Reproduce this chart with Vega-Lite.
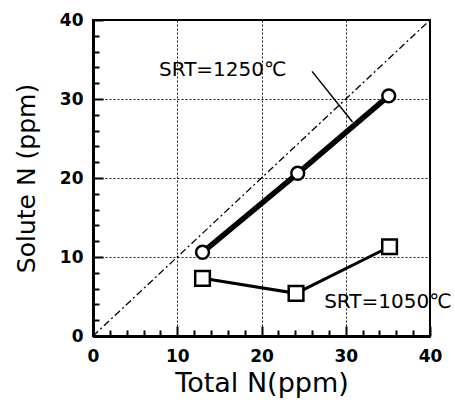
{
  "$schema": "https://vega.github.io/schema/vega-lite/v6.json",
  "width": 337,
  "height": 316,
  "autosize": "none",
  "padding": {"left": 93, "top": 20, "right": 25, "bottom": 79},
  "config": {
    "view": {"stroke": "black", "strokeWidth": 2},
    "font": "DejaVu Sans"
  },
  "resolve": {"axis": {"x": "independent", "y": "independent"}},
  "datasets": {
    "series": [
      {"total": 13.0, "solute": 10.6, "srt": "1250"},
      {"total": 24.3, "solute": 20.6, "srt": "1250"},
      {"total": 35.1, "solute": 30.4, "srt": "1250"},
      {"total": 13.0, "solute": 7.3, "srt": "1050"},
      {"total": 24.1, "solute": 5.4, "srt": "1050"},
      {"total": 35.2, "solute": 11.3, "srt": "1050"}
    ],
    "diag": [{"total": 0, "solute": 0}, {"total": 40, "solute": 40}],
    "labels": [
      {"total": 15.4, "solute": 33.7, "text": "SRT=1250℃"},
      {"total": 35.0, "solute": 4.3, "text": "SRT=1050℃"}
    ],
    "leader": [{"total": 26.0, "solute": 33.5, "total2": 30.8, "solute2": 27.1}]
  },
  "layer": [
    {
      "data": {"name": "diag"},
      "mark": {"type": "line", "color": "black", "strokeWidth": 1.3, "strokeDash": [7, 3, 2, 3]},
      "encoding": {
        "x": {
          "field": "total", "type": "quantitative",
          "scale": {"domain": [0, 40], "nice": false, "zero": false},
          "axis": {
            "orient": "bottom",
            "values": [0, 10, 20, 30, 40],
            "grid": true,
            "gridColor": "black",
            "gridWidth": 0.9,
            "gridDash": [2, 2],
            "tickSize": -10,
            "tickWidth": 2,
            "tickColor": "black",
            "domainColor": "black",
            "domainWidth": 3,
            "labelFont": "DejaVu Sans",
            "labelFontWeight": "bold",
            "labelFontSize": 17,
            "labelColor": "black",
            "labelPadding": 22,
            "labelFlush": false,
            "labelOverlap": false,
            "title": "Total N(ppm)",
            "titleFont": "DejaVu Sans",
            "titleFontSize": 27,
            "titleFontWeight": "normal",
            "titleColor": "black",
            "titlePadding": 6
          }
        },
        "y": {
          "field": "solute", "type": "quantitative",
          "scale": {"domain": [0, 40], "nice": false, "zero": false},
          "axis": {
            "orient": "left",
            "values": [0, 10, 20, 30, 40],
            "grid": true,
            "gridColor": "black",
            "gridWidth": 0.9,
            "gridDash": [2, 2],
            "tickSize": -10,
            "tickWidth": 2,
            "tickColor": "black",
            "domainColor": "black",
            "domainWidth": 3,
            "labelFont": "DejaVu Sans",
            "labelFontWeight": "bold",
            "labelFontSize": 17,
            "labelColor": "black",
            "labelPadding": 20,
            "labelFlush": false,
            "labelOverlap": false,
            "title": "Solute N (ppm)",
            "titleFont": "DejaVu Sans",
            "titleFontSize": 25,
            "titleFontWeight": "normal",
            "titleColor": "black",
            "titlePadding": 20
          }
        }
      }
    },
    {
      "data": {"name": "series"},
      "transform": [{"filter": "datum.srt === '1250'"}],
      "mark": {"type": "line", "color": "black", "strokeWidth": 5.5},
      "encoding": {
        "x": {"field": "total", "type": "quantitative",
          "axis": {"orient": "bottom", "values": [2, 4, 6, 8, 12, 14, 16, 18, 22, 24, 26, 28, 32, 34, 36, 38], "tickSize": -6, "tickWidth": 2, "tickColor": "black", "labels": false, "domain": true, "domainColor": "black", "domainWidth": 3, "grid": false, "title": null}},
        "y": {"field": "solute", "type": "quantitative",
          "axis": {"orient": "left", "values": [2, 4, 6, 8, 12, 14, 16, 18, 22, 24, 26, 28, 32, 34, 36, 38], "tickSize": -6, "tickWidth": 2, "tickColor": "black", "labels": false, "domain": true, "domainColor": "black", "domainWidth": 3, "grid": false, "title": null}}
      }
    },
    {
      "data": {"name": "series"},
      "transform": [{"filter": "datum.srt === '1050'"}],
      "mark": {"type": "line", "color": "black", "strokeWidth": 3},
      "encoding": {
        "x": {"field": "total", "type": "quantitative", "axis": null},
        "y": {"field": "solute", "type": "quantitative", "axis": null}
      }
    },
    {
      "data": {"name": "series"},
      "transform": [{"filter": "datum.srt === '1250'"}],
      "mark": {"type": "point", "shape": "circle", "filled": true, "fill": "white", "stroke": "black", "strokeWidth": 2.5, "size": 165, "opacity": 1},
      "encoding": {
        "x": {"field": "total", "type": "quantitative", "axis": null},
        "y": {"field": "solute", "type": "quantitative", "axis": null}
      }
    },
    {
      "data": {"name": "series"},
      "transform": [{"filter": "datum.srt === '1050'"}],
      "mark": {"type": "point", "shape": "square", "filled": true, "fill": "white", "stroke": "black", "strokeWidth": 2.5, "size": 215, "opacity": 1},
      "encoding": {
        "x": {"field": "total", "type": "quantitative", "axis": null},
        "y": {"field": "solute", "type": "quantitative", "axis": null}
      }
    },
    {
      "data": {"name": "leader"},
      "mark": {"type": "rule", "color": "black", "strokeWidth": 1.5},
      "encoding": {
        "x": {"field": "total", "type": "quantitative", "axis": null},
        "y": {"field": "solute", "type": "quantitative", "axis": null},
        "x2": {"field": "total2"},
        "y2": {"field": "solute2"}
      }
    },
    {
      "data": {"name": "labels"},
      "mark": {"type": "text", "font": "DejaVu Sans", "fontSize": 20, "color": "black", "align": "center", "baseline": "middle"},
      "encoding": {
        "x": {"field": "total", "type": "quantitative", "axis": null},
        "y": {"field": "solute", "type": "quantitative", "axis": null},
        "text": {"field": "text"}
      }
    }
  ]
}
